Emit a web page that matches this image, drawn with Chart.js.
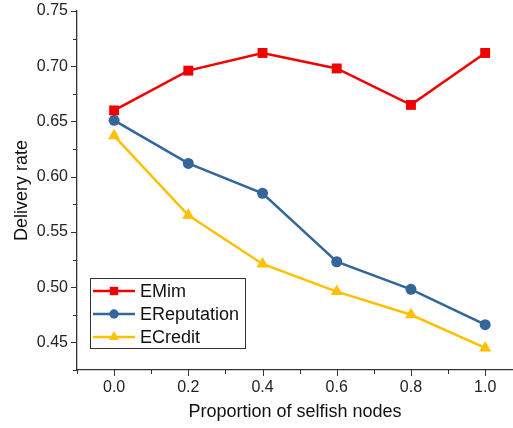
<!DOCTYPE html>
<html>
<head>
<meta charset="utf-8">
<script src="https://cdn.jsdelivr.net/npm/chart.js@4.4.1/dist/chart.umd.min.js"></script>
<style>
  html, body { margin: 0; padding: 0; background: #fff; }
  #wrap { width: 513px; height: 428px; }
</style>
</head>
<body>
<div id="wrap"><canvas id="chart" width="513" height="428"></canvas></div>
<script>
var proportions = [0.0, 0.2, 0.4, 0.6, 0.8, 1.0];
var emim = [0.660, 0.696, 0.712, 0.698, 0.665, 0.712];
var ereputation = [0.651, 0.612, 0.585, 0.523, 0.498, 0.466];
var ecredit = [0.637, 0.565, 0.521, 0.496, 0.475, 0.445];
var xTicks = [-0.1, 0.0, 0.1, 0.2, 0.3, 0.4, 0.5, 0.6, 0.7, 0.8, 0.9, 1.0];
var yTicks = [0.425, 0.45, 0.475, 0.5, 0.525, 0.55, 0.575, 0.6, 0.625, 0.65, 0.675, 0.7, 0.725, 0.75];

var axisColor = '#333333';
var fontFamily = 'Arial, "Liberation Sans", sans-serif';

function toPoints(vals) {
    return vals.map(function (v, i) { return { x: proportions[i], y: v }; });
}

function isMajorX(v) { return Math.round(v * 10) % 2 === 0 && v >= 0; }
function isMajorY(v) { return Math.round(v * 1000) % 50 === 0; }

// axis ticks, major and minor with different lengths
var tickPlugin = {
    id: 'ticks',
    afterDraw: function (chart) {
        var ctx = chart.ctx, xs = chart.scales.x, ys = chart.scales.y;
        ctx.save();
        ctx.strokeStyle = axisColor;
        ctx.lineWidth = 1;
        ctx.beginPath();
        xs.ticks.forEach(function (t) {
            var px = Math.round(xs.getPixelForValue(t.value)) + 0.5;
            var len = isMajorX(t.value) ? 6 : 4;
            ctx.moveTo(px, xs.top);
            ctx.lineTo(px, xs.top + len);
        });
        ys.ticks.forEach(function (t) {
            var py = Math.round(ys.getPixelForValue(t.value)) + 0.5;
            var len = isMajorY(t.value) ? 6 : 4;
            ctx.moveTo(ys.right, py);
            ctx.lineTo(ys.right - len, py);
        });
        ctx.stroke();
        ctx.restore();
    }
};

// legend box inside the plot, lower left
var legendPlugin = {
    id: 'boxLegend',
    afterDraw: function (chart) {
        var ctx = chart.ctx;
        var x0 = 90, y0 = 278, w = 155, h = 70;
        ctx.save();
        ctx.fillStyle = '#fff';
        ctx.fillRect(x0, y0, w, h);
        ctx.strokeStyle = '#333';
        ctx.lineWidth = 1;
        ctx.strokeRect(x0 + 0.5, y0 + 0.5, w, h);
        chart.data.datasets.forEach(function (ds, i) {
            var cy = y0 + 13 + i * 23;
            ctx.strokeStyle = ds.borderColor;
            ctx.lineWidth = ds.borderWidth;
            ctx.beginPath();
            ctx.moveTo(x0 + 3, cy);
            ctx.lineTo(x0 + 45, cy);
            ctx.stroke();
            ctx.fillStyle = ds.borderColor;
            Chart.helpers.drawPoint(ctx, {
                pointStyle: ds.pointStyle,
                radius: ds.pointRadius * 0.85,
                borderWidth: 0
            }, x0 + 24, cy);
            ctx.fillStyle = '#111';
            ctx.font = '18px ' + fontFamily;
            ctx.textBaseline = 'middle';
            ctx.textAlign = 'left';
            ctx.fillText(ds.label, x0 + 50, cy + 1);
        });
        ctx.restore();
    }
};

new Chart(document.getElementById('chart'), {
    type: 'line',
    data: {
        datasets: [
            {
                label: 'EMim',
                data: toPoints(emim),
                borderColor: '#f20000',
                backgroundColor: '#f20000',
                borderWidth: 2.5,
                pointStyle: 'rect',
                pointRadius: 7,
                pointBorderWidth: 0
            },
            {
                label: 'EReputation',
                data: toPoints(ereputation),
                borderColor: '#336699',
                backgroundColor: '#336699',
                borderWidth: 2.5,
                pointStyle: 'circle',
                pointRadius: 5.5,
                pointBorderWidth: 0
            },
            {
                label: 'ECredit',
                data: toPoints(ecredit),
                borderColor: '#ffc000',
                backgroundColor: '#ffc000',
                borderWidth: 2.5,
                pointStyle: 'triangle',
                pointRadius: 7,
                pointBorderWidth: 0
            }
        ]
    },
    options: {
        responsive: false,
        animation: false,
        layout: { autoPadding: false, padding: { top: 11, right: 0, bottom: 0, left: 0 } },
        plugins: {
            legend: { display: false },
            tooltip: { enabled: false }
        },
        scales: {
            x: {
                type: 'linear',
                min: -0.1,
                max: 1.075,
                afterBuildTicks: function (scale) {
                    scale.ticks = xTicks.map(function (v) { return { value: v }; });
                },
                afterFit: function (scale) {
                    scale.height = 58;
                    scale.paddingLeft = 0;
                    scale.paddingRight = 0;
                },
                grid: { display: false, drawTicks: false },
                border: { display: true, color: axisColor, width: 1.3 },
                ticks: {
                    padding: 8,
                    maxRotation: 0,
                    autoSkip: false,
                    color: '#222',
                    font: { family: fontFamily, size: 16 },
                    callback: function (v) { return isMajorX(v) ? v.toFixed(1) : ''; }
                },
                title: {
                    display: true,
                    text: 'Proportion of selfish nodes',
                    color: '#111',
                    font: { family: fontFamily, size: 18 },
                    padding: { top: 0, bottom: 5 }
                }
            },
            y: {
                min: 0.425,
                max: 0.75,
                afterBuildTicks: function (scale) {
                    scale.ticks = yTicks.map(function (v) { return { value: v }; });
                },
                afterFit: function (scale) {
                    scale.width = 77;
                    scale.paddingTop = 0;
                    scale.paddingBottom = 0;
                },
                grid: { display: false, drawTicks: false },
                border: { display: true, color: axisColor, width: 1.3 },
                ticks: {
                    padding: 9,
                    autoSkip: false,
                    color: '#222',
                    font: { family: fontFamily, size: 16 },
                    callback: function (v) { return isMajorY(v) ? v.toFixed(2) : ''; }
                },
                title: {
                    display: true,
                    text: 'Delivery rate',
                    color: '#111',
                    font: { family: fontFamily, size: 18 },
                    padding: { top: 11, bottom: 0 }
                }
            }
        }
    },
    plugins: [tickPlugin, legendPlugin]
});
</script>
</body>
</html>
